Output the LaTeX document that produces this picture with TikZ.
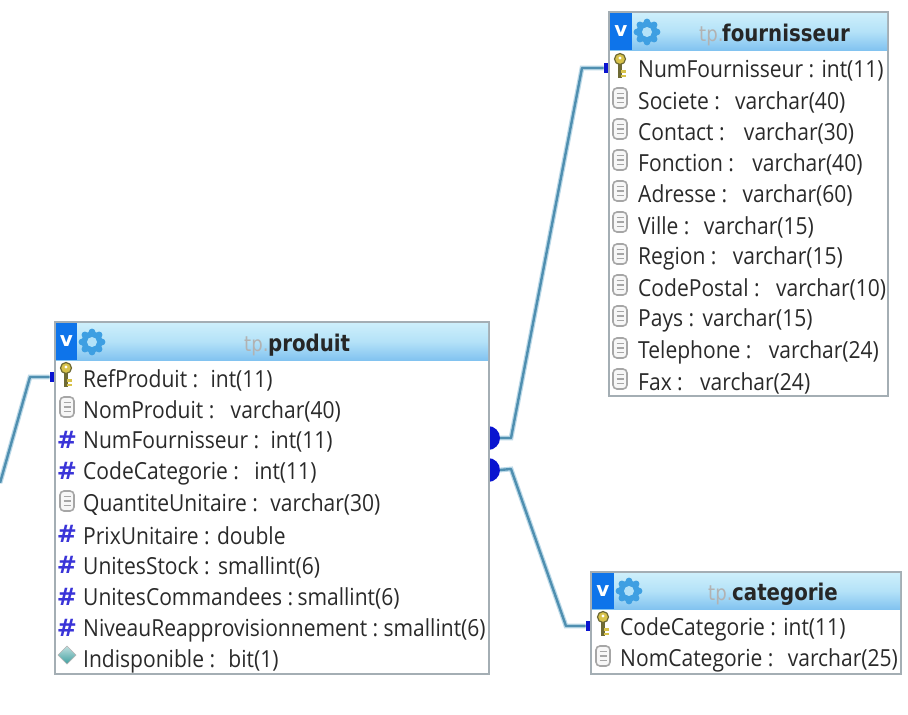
\documentclass[tikz,border=0pt]{standalone}
\usepackage{fontspec}
\setmainfont{DejaVu Sans}
\newfontfamily\rowfont[FakeStretch=0.895]{Open Sans}
\newfontfamily\headfont[FakeStretch=0.86]{DejaVu Sans}
\usetikzlibrary{shadings,calc}
\definecolor{framegrey}{HTML}{A4AEB4}
\definecolor{linkblue}{HTML}{4F8FB0}
\definecolor{halo}{HTML}{BBD9E8}
\definecolor{portblue}{HTML}{0A14D0}
\definecolor{vblue}{HTML}{0E74EA}
\definecolor{gearblue}{HTML}{3E9FE2}
\definecolor{inktext}{HTML}{2A2A2A}
\definecolor{hashblue}{HTML}{3A34D8}
\definecolor{headtop}{HTML}{CDEFFB}
\definecolor{headmid}{HTML}{B4E2F8}
\definecolor{headlow}{HTML}{82C3F0}
\definecolor{keygold}{HTML}{D8C24A}
\definecolor{keydark}{HTML}{6E6A35}
\newcommand{\gp}[1]{\kern#1pt\relax}
\tikzset{
  x=1pt,y=-1pt,
  tablebox/.style={draw=framegrey,line width=2pt,fill=white,inner sep=0pt,outer sep=0pt,anchor=north west},
  headbar/.style={inner sep=0pt,outer sep=0pt,anchor=north west,top color=headtop,bottom color=headlow,middle color=headmid},
  vtag/.style={fill=vblue,text=white,inner sep=0pt,outer sep=0pt,anchor=north west,font=\fontsize{20}{20}\selectfont\bfseries},
  rowlabel/.style={anchor=west,inner sep=0pt,text=inktext,font=\rowfont\fontsize{23.5}{24}\selectfont},
  headtp/.style={text=gray!60,font=\headfont\fontsize{21}{21}\selectfont},
  headname/.style={text=black!85,font=\headfont\fontsize{23}{23}\selectfont\bfseries},
  headlabel/.style={anchor=base west,inner sep=0pt},
  hashmark/.style={anchor=center,inner sep=0pt,text=hashblue,font=\fontsize{24}{24}\selectfont\bfseries},
  pkport/.style={fill=portblue,draw=none,minimum width=5pt,minimum height=10pt,inner sep=0pt,outer sep=0pt},
  fkport/.style={fill=portblue,draw=none,circle,minimum size=24pt,inner sep=0pt,outer sep=0pt},
  linkline/.style={draw=linkblue,line width=2.4pt,line join=round,preaction={draw=halo,line width=4.8pt}},
}
% icons
\newcommand{\keyicon}[2]{%
  \draw[keydark,line width=1.2pt,fill=keygold] (#1,#2-7) ellipse (5.5 and 5.5);
  \fill[white] (#1,#2-8) circle (1.6);
  \fill[keydark] (#1-2,#2-2) rectangle (#1+2,#2+12);
  \fill[keygold] (#1+1,#2+4) rectangle (#1+6,#2+6.5);
  \fill[keygold] (#1+1,#2+8.5) rectangle (#1+6,#2+11);
}
\newcommand{\colicon}[2]{%
  \draw[gray!70,line width=1.6pt,fill=gray!6,rounded corners=4pt] (#1-7,#2-10) rectangle (#1+7,#2+10);
  \draw[gray!70,line width=1.2pt] (#1-3.5,#2-4.5) -- (#1+3.5,#2-4.5) (#1-3.5,#2) -- (#1+3.5,#2) (#1-3.5,#2+4.5) -- (#1+3.5,#2+4.5);
}
\newcommand{\boolicon}[2]{%
  \fill[top color=teal!25!white,bottom color=teal!75!white,draw=gray!50] (#1,#2-9) -- (#1+9,#2) -- (#1,#2+9) -- (#1-9,#2) -- cycle;
}
\newcommand{\gearicon}[2]{%
  \foreach \a in {0,45,...,315}{\fill[gearblue] ($(#1,#2)+(\a:10)$) circle (3.4);}
  \fill[gearblue] (#1,#2) circle (10.5);
  \fill[headmid] (#1,#2) circle (5);
}
\begin{document}
\begin{tikzpicture}
\useasboundingbox (0,0) rectangle (908,715);
\fill[white] (0,0) rectangle (908,715);

% ports (half hidden by the tables drawn after them)
\node[pkport] (pkf) at (606,68) {};
\node[pkport] (pkp) at (52,377) {};
\node[pkport] (pkc) at (588,626) {};
\node[fkport] (fkf) at (488,438) {};
\node[fkport] (fkc) at (488,470) {};
\coordinate (free) at (0,483);

% connectors
\draw[linkline] (fkf.east) -- (511,438) -- (582,68) -- (pkf.west);
\draw[linkline] (fkc.east) -- (511,469) -- (566,626) -- (pkc.west);
\draw[linkline] (free) -- (30,377) -- (pkp.west);

% ---------- fournisseur
\node[tablebox,minimum width=279pt,minimum height=384pt] (tf) at (609,12) {};
\node[headbar,minimum width=277pt,minimum height=37pt] (hf) at (610,13) {};
\node[vtag,minimum width=22pt,minimum height=37pt] (vf) at (610,13) {v};
\gearicon{647}{32}
\node[headlabel,headtp] (tf1) at (699,41) {tp.};
\node[headlabel,headname] (tf2) at (722,41) {fournisseur};
\keyicon{620}{66}
\foreach \n/\y/\t in {a/71/{NumFournisseur : int(11)},b/102/{Societe : \gp{8}varchar(40)},c/133/{Contact : \gp{12}varchar(30)},d/164/{Fonction : \gp{11}varchar(40)},e/195/{Adresse : \gp{8}varchar(60)},f/227/{Ville : \gp{7}varchar(15)},g/258/{Region : \gp{9}varchar(15)},h/289/{CodePostal : \gp{9}varchar(10)},i/320/{Pays : \gp{1}varchar(15)},j/352/{Telephone : \gp{10}varchar(24)},k/383/{Fax : \gp{10}varchar(24)}}{
  \node[rowlabel] (f\n) at (638,\y) {\t};
}
\foreach \y in {98,129,160,191,222,254,285,316,348,379}{\colicon{620}{\y}}

% ---------- produit
\node[tablebox,minimum width=434pt,minimum height=352pt] (tp) at (55,322) {};
\node[headbar,minimum width=432pt,minimum height=37pt] (hp) at (56,323) {};
\node[vtag,minimum width=21pt,minimum height=37pt] (vp) at (56,323) {v};
\gearicon{92}{342}
\node[headlabel,headtp] (tp1) at (244,351) {tp.};
\node[headlabel,headname] (tp2) at (268,351) {produit};
\keyicon{66}{375}
\foreach \n/\y/\t in {a/380/{RefProduit : \gp{5}int(11)},b/411/{NomProduit : \gp{9}varchar(40)},c/442/{NumFournisseur : \gp{4}int(11)},d/473/{CodeCategorie : \gp{8}int(11)},e/505/{QuantiteUnitaire : \gp{5}varchar(30)},f/536/{PrixUnitaire : double},g/567/{UnitesStock : \gp{1}smallint(6)},h/598/{UnitesCommandees : \gp{-3}smallint(6)},i/630/{NiveauReapprovisionnement : \gp{-2}smallint(6)},j/661/{Indisponible : \gp{6}bit(1)}}{
  \node[rowlabel] (p\n) at (83,\y) {\t};
}
\foreach \y in {407,501}{\colicon{67}{\y}}
\foreach \m/\y in {a/440,b/471,c/534,d/565,e/597,f/628}{\node[hashmark] (hash\m) at (67,\y) {\#};}
\boolicon{67}{655}

% ---------- categorie
\node[tablebox,minimum width=310pt,minimum height=102pt] (tc) at (591,572) {};
\node[headbar,minimum width=308pt,minimum height=36pt] (hc) at (592,573) {};
\node[vtag,minimum width=22pt,minimum height=36pt] (vc) at (592,573) {v};
\gearicon{629}{591}
\node[headlabel,headtp] (tc1) at (708,600) {tp.};
\node[headlabel,headname] (tc2) at (732,600) {categorie};
\keyicon{603}{624}
\node[rowlabel] (ca) at (620,629) {CodeCategorie : int(11)};
\node[rowlabel] (cb) at (620,660) {NomCategorie : \gp{7}varchar(25)};
\colicon{603}{656}
\end{tikzpicture}
\end{document}
